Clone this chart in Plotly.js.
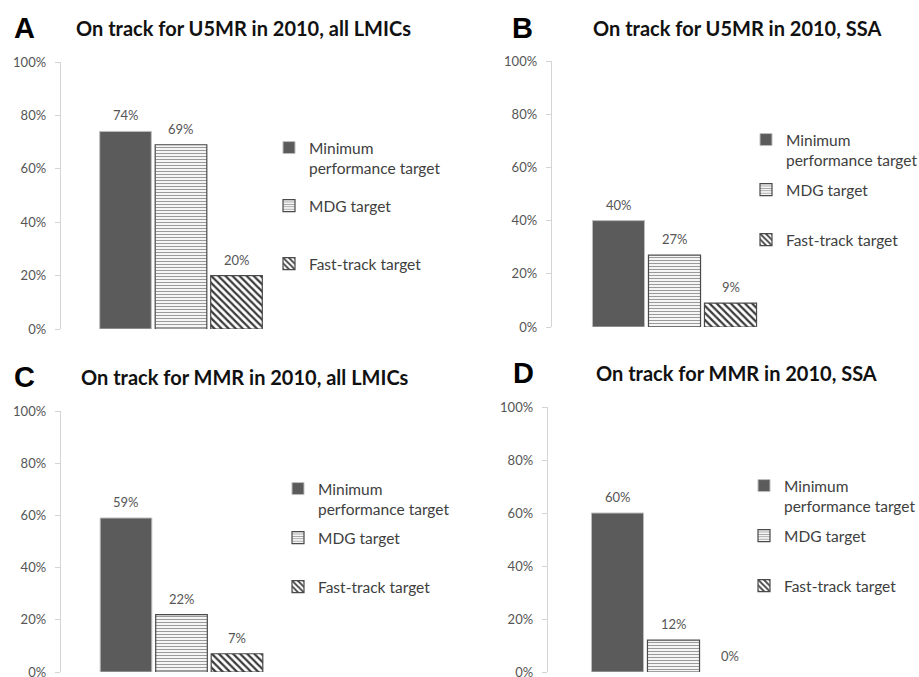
<!DOCTYPE html>
<html>
<head>
<meta charset="utf-8">
<script src="https://cdn.plot.ly/plotly-3.0.1.min.js"></script>
<style>html,body{margin:0;padding:0;background:#fff;}#chart{width:919px;height:677px;}</style>
</head>
<body>
<div id="chart"></div>
<script>
// ---- data ----
const categories = ['Minimum performance target', 'MDG target', 'Fast-track target'];
const legendLabels = ['Minimum<br>performance target', 'MDG target', 'Fast-track target'];
const panelLetters = ['A', 'B', 'C', 'D'];
const panelTitles = [
  'On track for U5MR in 2010, all LMICs',
  'On track for U5MR in 2010, SSA',
  'On track for MMR in 2010, all LMICs',
  'On track for MMR in 2010, SSA'
];
const valuesA = [74, 69, 20];
const valuesB = [40, 27, 9];
const valuesC = [59, 22, 7];
const valuesD = [60, 12, 0];
const yTicks = [0, 20, 40, 60, 80, 100];

// ---- styles ----
const panelValues = [valuesA, valuesB, valuesC, valuesD];
const W = 919, H = 677;
const FONT = 'Lato, "Open Sans", sans-serif';
const barStyles = [
  {color: '#5b5b5b', line: {color: '#bdbdbd', width: 1}},
  {color: '#ffffff', line: {color: '#4a4a4a', width: 1.2},
   pattern: {shape: '-', fgcolor: '#9a9a9a', bgcolor: '#ffffff', size: 3, solidity: 0.4}},
  {color: '#ffffff', line: {color: '#4a4a4a', width: 1.2},
   pattern: {shape: '\\', fgcolor: '#3a3a3a', bgcolor: '#ffffff', size: 5, solidity: 0.45}}
];
// panel geometry in pixels
const geo = [
  {ax: 61,  right: 290, c0: 125.5, pitch: 55.5, top: 62,  bot: 329, textX: 308, legY: [158, 206, 264], letX: 24,  titleX: 244, titleY: 28},
  {ax: 552, right: 768, c0: 618.5, pitch: 56,   top: 61,  bot: 327, textX: 785, legY: [150, 190, 240], letX: 522, titleX: 737, titleY: 28},
  {ax: 61,  right: 292, c0: 126,   pitch: 55.5, top: 411, bot: 672, textX: 317, legY: [499, 538, 587], letX: 24,  titleX: 245, titleY: 377},
  {ax: 548, right: 766, c0: 617.5, pitch: 56,   top: 407, bot: 672, textX: 783, legY: [496, 536, 586], letX: 523, titleX: 736, titleY: 373}
];
const LEG_TEXT_OFFSET = 39;

const traces = [];
const layout = {
  width: W, height: H,
  margin: {l: 0, r: 0, t: 0, b: 0, autoexpand: false},
  paper_bgcolor: '#ffffff', plot_bgcolor: 'rgba(0,0,0,0)',
  barmode: 'overlay',
  font: {family: FONT, color: '#444'},
  annotations: [],
  showlegend: true
};

panelValues.forEach((vals, p) => {
  const g = geo[p];
  const n = p + 1;
  const xa = n === 1 ? 'x' : 'x' + n;
  const ya = n === 1 ? 'y' : 'y' + n;
  categories.forEach((cat, i) => {
    const k = p * 3 + i + 1;
    const legName = k === 1 ? 'legend' : 'legend' + k;
    traces.push({
      type: 'bar',
      x: [cat],
      // a zero-height bar is not drawn (no outline at the baseline), as in the original
      y: [vals[i] === 0 ? null : vals[i]],
      width: 0.93,
      name: legendLabels[i],
      legend: legName,
      showlegend: true,
      xaxis: xa, yaxis: ya,
      marker: barStyles[i],
      hoverinfo: 'skip'
    });
    layout[legName] = {
      x: (g.textX - LEG_TEXT_OFFSET) / W, y: 1 - g.legY[i] / H,
      xanchor: 'left', yanchor: 'middle',
      valign: 'top',
      font: {family: FONT, size: 15.5, color: '#404040'},
      itemwidth: 30,
      bgcolor: 'rgba(0,0,0,0)', borderwidth: 0
    };
    layout.annotations.push({
      text: vals[i] + '%',
      xref: xa, yref: ya, x: cat, y: vals[i],
      xanchor: 'center', yanchor: 'bottom', yshift: 6,
      showarrow: false,
      font: {family: FONT, size: 13, color: '#555'}
    });
  });
  const xr0 = (g.ax - g.c0) / g.pitch;
  const xr1 = (g.right - g.c0) / g.pitch;
  layout['xaxis' + (n === 1 ? '' : n)] = {
    domain: [g.ax / W, g.right / W],
    anchor: ya,
    type: 'category',
    categoryorder: 'array', categoryarray: categories,
    range: [xr0, xr1],
    visible: false, fixedrange: true
  };
  layout['yaxis' + (n === 1 ? '' : n)] = {
    domain: [1 - g.bot / H, 1 - g.top / H],
    anchor: xa,
    range: [0, 100],
    tickvals: yTicks,
    ticktext: yTicks.map(v => v + '%'),
    showline: true, linecolor: '#d4d4d4', linewidth: 1.3,
    ticks: 'outside', ticklen: 5, tickcolor: '#d4d4d4',
    ticklabelstandoff: 6,
    ticklabeloverflow: 'allow',
    tickfont: {family: FONT, size: 13, color: '#555'},
    showgrid: false, zeroline: false, fixedrange: true
  };
  layout.annotations.push({
    text: '<b>' + panelLetters[p] + '</b>',
    xref: 'paper', yref: 'paper', x: g.letX / W, y: 1 - g.titleY / H,
    xanchor: 'center', yanchor: 'middle', showarrow: false,
    font: {family: 'Liberation Sans, Arial, sans-serif', size: 29, color: '#000'}
  });
  layout.annotations.push({
    text: '<b>' + panelTitles[p] + '</b>',
    xref: 'paper', yref: 'paper', x: g.titleX / W, y: 1 - g.titleY / H,
    xanchor: 'center', yanchor: 'middle', showarrow: false,
    font: {family: FONT, size: 20, color: '#111'}
  });
});

Plotly.newPlot('chart', traces, layout, {displayModeBar: false, staticPlot: true});
</script>
</body>
</html>
